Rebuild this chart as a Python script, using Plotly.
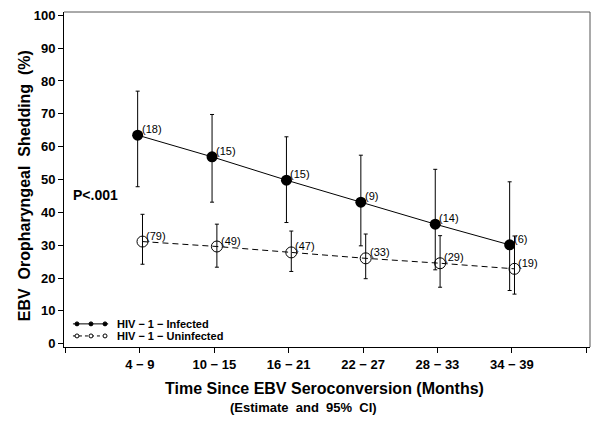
import plotly.graph_objects as go

categories = ["4 \u2212 9", "10 \u2212 15", "16 \u2212 21", "22 \u2212 27", "28 \u2212 33", "34 \u2212 39"]
cat_pos = [1, 2, 3, 4, 5, 6]

inf_est = [63.5, 56.9, 49.8, 43.1, 36.4, 30.1]
inf_upper = [76.9, 69.8, 63.0, 57.4, 53.1, 49.3]
inf_lower = [47.8, 43.1, 36.9, 29.8, 22.5, 16.2]
inf_n = [18, 15, 15, 9, 14, 6]

uninf_est = [31.1, 29.6, 27.8, 26.0, 24.5, 22.8]
uninf_upper = [39.4, 36.4, 34.3, 33.4, 32.9, 32.8]
uninf_lower = [24.2, 23.3, 22.0, 19.8, 17.2, 15.1]
uninf_n = [79, 49, 47, 33, 29, 19]

legend_labels = ["HIV \u2212 1 \u2212 Infected", "HIV \u2212 1 \u2212 Uninfected"]

FONT = "Arial, Liberation Sans, sans-serif"
inf_x = [p - 0.03 for p in cat_pos]
unf_x = [p + 0.035 for p in cat_pos]

fig = go.Figure()

fig.add_trace(go.Scatter(
    x=inf_x, y=inf_est, mode="lines+markers",
    line=dict(color="black", width=1),
    marker=dict(color="black", size=11, symbol="circle"),
    error_y=dict(type="data", symmetric=False,
                 array=[u - e for u, e in zip(inf_upper, inf_est)],
                 arrayminus=[e - l for e, l in zip(inf_est, inf_lower)],
                 color="black", thickness=1, width=2),
    hoverinfo="skip", showlegend=False))

fig.add_trace(go.Scatter(
    x=unf_x, y=uninf_est, mode="lines+markers",
    line=dict(color="black", width=1, dash="6px,4px"),
    marker=dict(color="black", size=11, symbol="circle-open", line=dict(width=1)),
    error_y=dict(type="data", symmetric=False,
                 array=[u - e for u, e in zip(uninf_upper, uninf_est)],
                 arrayminus=[e - l for e, l in zip(uninf_est, uninf_lower)],
                 color="black", thickness=1, width=2),
    hoverinfo="skip", showlegend=False))

annotations = []
for x, y, n in zip(inf_x, inf_est, inf_n):
    annotations.append(dict(x=x, y=y, text=f"({n})", showarrow=False, xanchor="left", yanchor="bottom",
                            xshift=2, yshift=-2, font=dict(family=FONT, size=11, color="black")))
for x, y, n in zip(unf_x, uninf_est, uninf_n):
    annotations.append(dict(x=x, y=y, text=f"({n})", showarrow=False, xanchor="left", yanchor="bottom",
                            xshift=2, yshift=-2, font=dict(family=FONT, size=11, color="black")))
annotations.append(dict(x=0.07, y=45.3, text="<b>P<.001</b>", showarrow=False, xanchor="left", yanchor="middle",
                        font=dict(family=FONT, size=14, color="black")))
annotations.append(dict(xref="paper", yref="paper", x=0.496, y=-0.125, text="<b>Time Since EBV Seroconversion (Months)</b>",
                        showarrow=False, yanchor="middle", xanchor="center",
                        font=dict(family=FONT, size=16, color="black")))
annotations.append(dict(xref="paper", yref="paper", x=0.456, y=-0.182, text="<b>(Estimate  and  95%  CI)</b>",
                        showarrow=False, yanchor="middle", xanchor="center",
                        font=dict(family=FONT, size=13, color="black")))
annotations.append(dict(xref="paper", yref="paper", x=-0.076, y=0.48, text="<b>EBV  Oropharyngeal  Shedding  (%)</b>",
                        showarrow=False, textangle=-90, xanchor="center", yanchor="middle",
                        font=dict(family=FONT, size=16, color="black")))

# manual legend (paper coordinates)
leg_rows = [0.069, 0.033]
shapes = [dict(type="line", xref="paper", yref="paper", x0=0, x1=1, y0=1, y1=1, line=dict(color="#555", width=1)),
          dict(type="line", xref="paper", yref="paper", x0=1, x1=1, y0=0, y1=1, line=dict(color="#555", width=1))]
for i, (yy, lab) in enumerate(zip(leg_rows, legend_labels)):
    shapes.append(dict(type="line", xref="paper", yref="paper", x0=0.017, x1=0.084, y0=yy, y1=yy,
                       line=dict(color="black", width=1, dash="solid" if i == 0 else "3px,3px")))
    for dx in [0.0247, 0.0513, 0.078]:
        shapes.append(dict(type="circle", xref="paper", yref="paper", xsizemode="pixel", ysizemode="pixel",
                           xanchor=dx, yanchor=yy, x0=-2, x1=2, y0=-2, y1=2,
                           fillcolor="black" if i == 0 else "white", line=dict(color="black", width=1)))
    annotations.append(dict(xref="paper", yref="paper", x=0.097, y=yy, text=f"<b>{lab}</b>", showarrow=False,
                            xanchor="left", yanchor="middle", font=dict(family=FONT, size=11, color="black")))

fig.update_layout(
    width=600, height=425,
    margin=dict(l=64, r=10, t=12, b=78),
    paper_bgcolor="white", plot_bgcolor="white",
    font=dict(family=FONT, color="black"),
    annotations=annotations,
    shapes=shapes,
    showlegend=False,
    hovermode=False,
    xaxis=dict(range=[-0.02, 7.05], tickvals=[0] + cat_pos + [7], ticktext=[""] + [f"<b>{c}</b>" for c in categories] + [""],
               showline=True, linecolor="black", linewidth=1, mirror=False, automargin=False,
               ticks="outside", ticklen=5, tickcolor="black", showgrid=False, zeroline=False,
               tickfont=dict(family=FONT, size=13, color="black")),
    yaxis=dict(range=[-1, 101], tickvals=list(range(0, 101, 10)),
               ticktext=[f"<b>{v}</b>" for v in range(0, 101, 10)],
               showline=True, linecolor="black", linewidth=1, automargin=False,
               ticks="outside", ticklen=5, tickcolor="black", showgrid=False, zeroline=False,
               tickfont=dict(family=FONT, size=13, color="black")),
)

fig.write_html("out.html", config={"displayModeBar": False, "staticPlot": True},
               post_script="document.body.style.margin='0';document.body.style.padding='0';")
